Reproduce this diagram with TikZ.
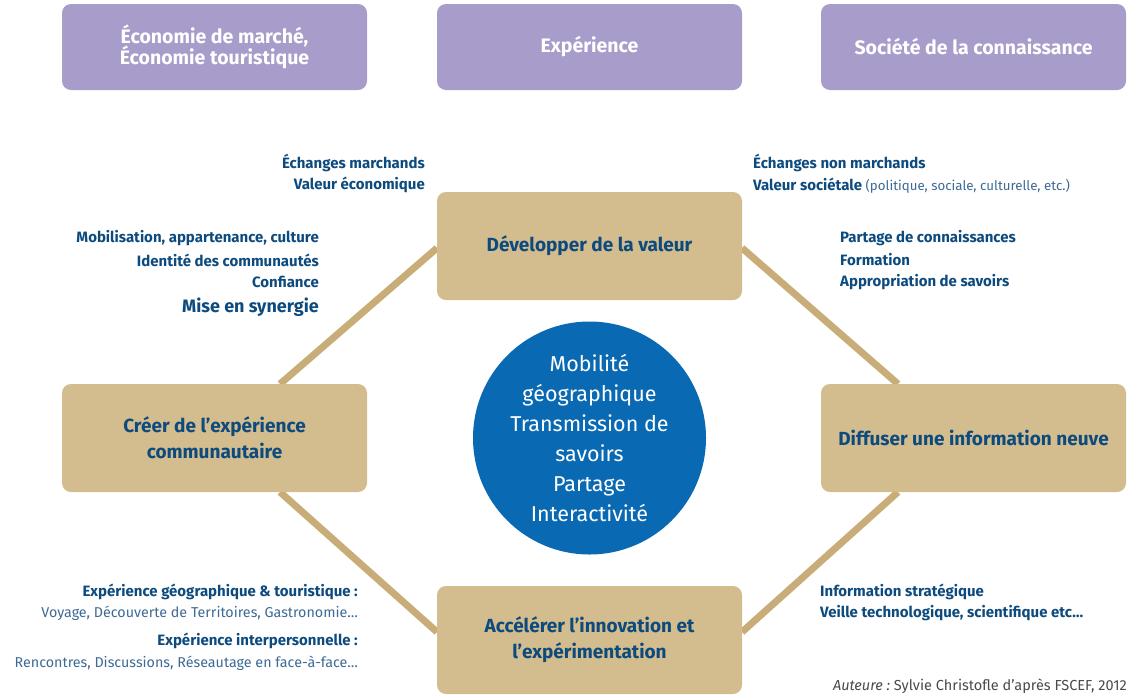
\documentclass[tikz,border=0pt]{standalone}
\usepackage{fontspec}
\setmainfont{Fira Sans}
\definecolor{purp}{HTML}{A89CCB}
\definecolor{tan}{HTML}{D3BC8D}
\definecolor{tanline}{HTML}{C8AD79}
\definecolor{navy}{HTML}{0D4A7E}
\definecolor{lightnavy}{HTML}{3C6A95}
\definecolor{cblue}{HTML}{0A69B3}
\definecolor{grayt}{HTML}{4A4A4A}
\tikzset{
  topbox/.style={rectangle, rounded corners=9pt, fill=purp, minimum width=305pt, minimum height=86pt, text=white, font=\fontsize{19.5}{22}\selectfont\bfseries, align=center},
  tanbox/.style={rectangle, rounded corners=9pt, fill=tan, minimum width=305pt, minimum height=108pt, text=navy, font=\fontsize{19}{26}\selectfont\bfseries, align=center},
  conn/.style={draw=tanline, line width=7pt},
  lab/.style={text=navy, font=\fontsize{15}{22}\selectfont\bfseries, inner sep=0pt},
  sub/.style={text=lightnavy, font=\fontsize{14.3}{20}\selectfont, inner sep=0pt},
}
\begin{document}
\begin{tikzpicture}[x=1pt,y=-1pt]
\useasboundingbox (0,0) rectangle (1131,694);
% connectors first
\coordinate (dl) at (437,248);
\coordinate (dr) at (742,248);
\coordinate (ct) at (280,384);
\coordinate (cb) at (280,492);
\coordinate (ft) at (898,384);
\coordinate (fb) at (898,492);
\coordinate (al) at (437,632);
\coordinate (ar) at (742,632);
\draw[conn] (dl) -- (ct);
\draw[conn] (dr) -- (ft);
\draw[conn] (cb) -- (al);
\draw[conn] (fb) -- (ar);
% top boxes
\node[topbox] (t1) at (214.5,47) {Économie de marché,\\[-2pt]Économie touristique};
\node[topbox] (t2) at (589.5,47) {Expérience};
\node[topbox] (t3) at (973.5,47) {Société de la connaissance};
% tan boxes
\node[tanbox] (dev) at (589.5,246) {Développer de la valeur};
\node[tanbox] (cre) at (214.5,438) {Créer de l’expérience\\communautaire};
\node[tanbox] (dif) at (973.5,438) {Diffuser une information neuve};
\node[tanbox] (acc) at (589.5,640) {Accélérer l’innovation et\\l’expérimentation};
% circle
\node[circle, fill=cblue, minimum size=233pt, inner sep=0pt, text=white, align=center, font=\fontsize{21.5}{30}\selectfont] (c) at (589.5,438) {Mobilité\\géographique\\Transmission de\\savoirs\\Partage\\Interactivité};
% labels
\node[lab, anchor=east] (l1) at (425,163) {Échanges marchands};
\node[lab, anchor=east] (l2) at (425,185) {Valeur économique};
\node[lab, anchor=east] (l3) at (319,238) {Mobilisation, appartenance, culture};
\node[lab, anchor=east] (l4) at (319,260) {Identité des communautés};
\node[lab, anchor=east] (l5) at (319,282) {Confiance};
\node[lab, anchor=east, font=\fontsize{18}{22}\selectfont\bfseries] (l6) at (319,307) {Mise en synergie};
\node[lab, anchor=west] (r1) at (753,163) {Échanges non marchands};
\node[lab, anchor=west] (r2) at (753,186) {Valeur sociétale {\mdseries\fontsize{13.3}{16}\selectfont\color{lightnavy}(politique, sociale, culturelle, etc.)}};
\node[lab, anchor=west] (r3) at (840,238) {Partage de connaissances};
\node[lab, anchor=west] (r4) at (840,260) {Formation};
\node[lab, anchor=west] (r5) at (840,282) {Appropriation de savoirs};
\node[lab, anchor=east] (b1) at (358,592) {Expérience géographique \& touristique :};
\node[sub, anchor=east] (b2) at (358,613) {Voyage, Découverte de Territoires, Gastronomie…};
\node[lab, anchor=east] (b3) at (358,641) {Expérience interpersonnelle :};
\node[sub, anchor=east] (b4) at (358,663) {Rencontres, Discussions, Réseautage en face-à-face…};
\node[lab, anchor=west] (i1) at (820,592) {Information stratégique};
\node[lab, anchor=west] (i2) at (820,613) {Veille technologique, scientifique etc…};
\node[text=grayt, font=\fontsize{14.5}{18}\selectfont, anchor=east, inner sep=0pt] (auth) at (1127,686) {\itshape Auteure :\upshape\ Sylvie Christofle d’après FSCEF, 2012};
\end{tikzpicture}
\end{document}
